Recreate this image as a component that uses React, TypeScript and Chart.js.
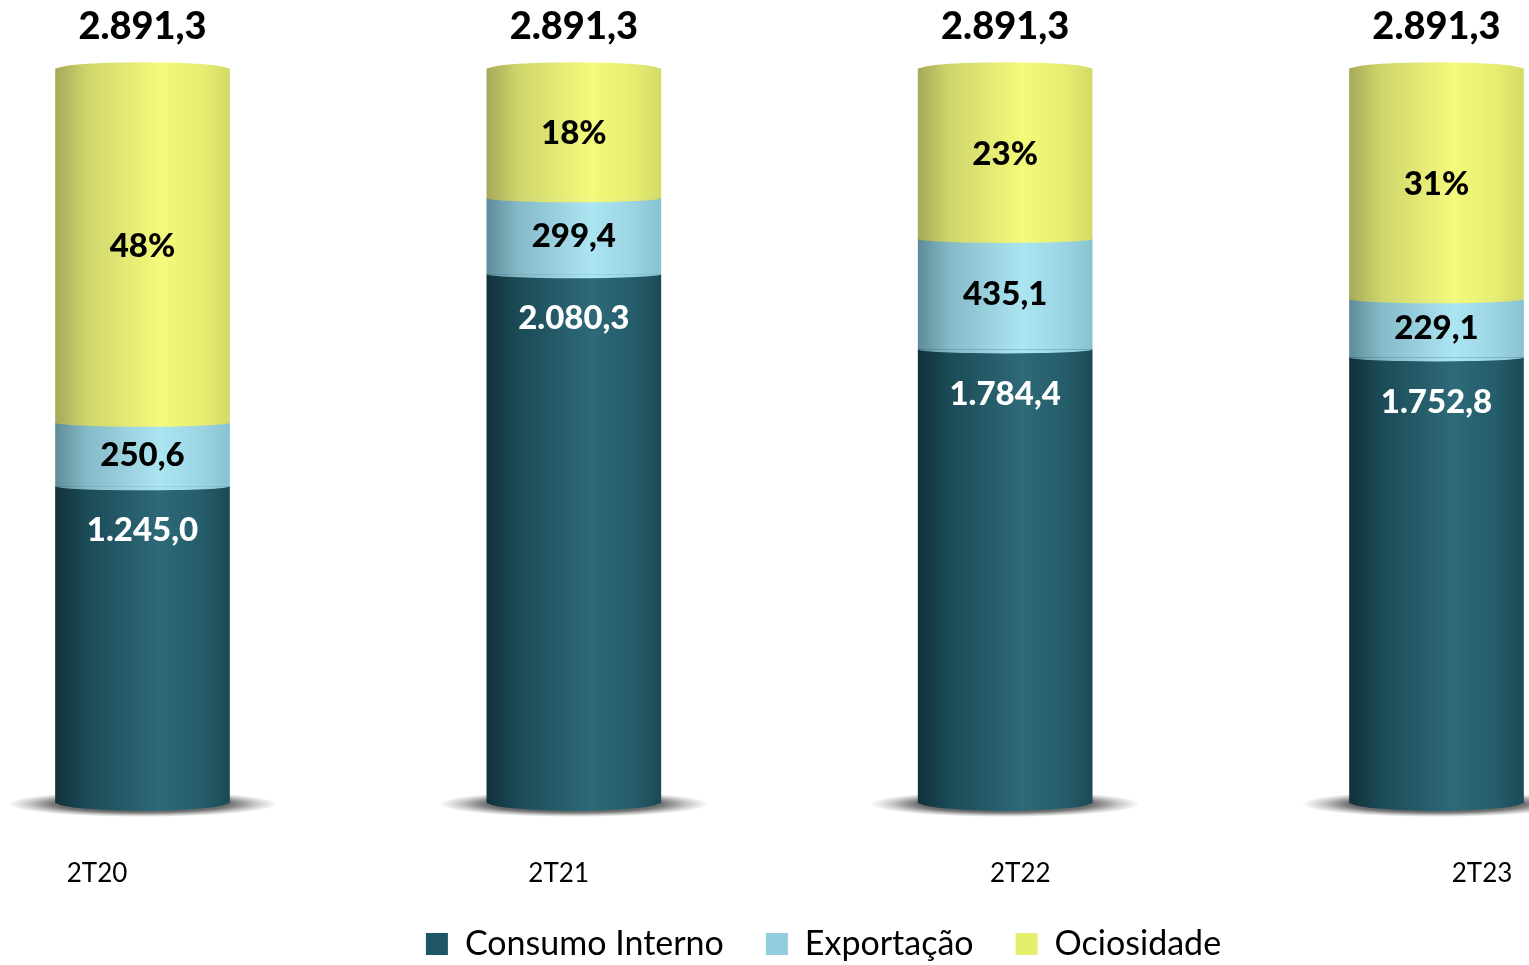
import React, { useEffect, useRef } from 'react';
import { Chart, registerables } from 'chart.js';

Chart.register(...registerables);

const categories = ['2T20', '2T21', '2T22', '2T23'];
const consumoInterno = [1245.0, 2080.3, 1784.4, 1752.8];
const exportacao = [250.6, 299.4, 435.1, 229.1];
const ociosidade = [1395.7, 511.6, 671.8, 909.4];
const totals = [2891.3, 2891.3, 2891.3, 2891.3];
const seriesNames = ['Consumo Interno', 'Exportação', 'Ociosidade'];

const legendColors = ['#1f5666', '#92cddf', '#e5ee6d'];
const gradientStops: [number, string][][] = [
  [[0, '#12313a'], [0.18, '#1b4b57'], [0.6, '#2e6a78'], [0.85, '#245c6a'], [1, '#1b4a56']],
  [[0, '#5d8c99'], [0.18, '#85bac8'], [0.6, '#ace5f2'], [0.85, '#9ad4e2'], [1, '#88c2d0']],
  [[0, '#a6aa5a'], [0.18, '#cfd56b'], [0.6, '#f4fa7b'], [0.85, '#e6ed70'], [1, '#d3da68']],
];

const W = 1529;
const H = 965;
const BAR_W = 174;

function fmt(v: number): string {
  const [i, d] = v.toFixed(1).split('.');
  return i.replace(/\B(?=(\d{3})+(?!\d))/g, '.') + ',' + d;
}

function makeGrad(ctx: CanvasRenderingContext2D, cx: number, w: number, stops: [number, string][]) {
  const g = ctx.createLinearGradient(cx - w / 2, 0, cx + w / 2, 0);
  stops.forEach(([o, c]) => g.addColorStop(o, c));
  return g;
}

const cylinderPlugin = {
  id: 'cylinders',
  beforeDatasetsDraw(chart: any) {
    const ctx: CanvasRenderingContext2D = chart.ctx;
    const meta = chart.getDatasetMeta(0);
    meta.data.forEach((bar: any) => {
      const cx = bar.x;
      const cy = bar.base + 1;
      const rx = 135;
      const ry = 13;
      ctx.save();
      ctx.translate(cx, cy);
      ctx.scale(1, ry / rx);
      const g = ctx.createRadialGradient(0, 0, 0, 0, 0, rx);
      g.addColorStop(0, 'rgba(0,0,0,0.8)');
      g.addColorStop(0.65, 'rgba(0,0,0,0.55)');
      g.addColorStop(0.85, 'rgba(0,0,0,0.2)');
      g.addColorStop(1, 'rgba(0,0,0,0)');
      ctx.fillStyle = g;
      ctx.beginPath();
      ctx.arc(0, 0, rx, 0, Math.PI * 2);
      ctx.fill();
      ctx.restore();
    });
  },
  afterDatasetsDraw(chart: any) {
    const ctx: CanvasRenderingContext2D = chart.ctx;
    const metas = [0, 1, 2].map((i) => chart.getDatasetMeta(i));
    categories.forEach((_, j) => {
      const b0 = metas[0].data[j];
      const b1 = metas[1].data[j];
      const b2 = metas[2].data[j];
      const cx = b0.x;
      const hw = BAR_W / 2;
      ctx.save();
      ctx.fillStyle = makeGrad(ctx, cx, BAR_W, gradientStops[0]);
      ctx.beginPath();
      ctx.ellipse(cx, b0.base - 1, hw, 9, 0, 0, Math.PI);
      ctx.fill();
      ctx.fillStyle = makeGrad(ctx, cx, BAR_W, gradientStops[1]);
      ctx.beginPath();
      ctx.ellipse(cx, b1.base - 0.5, hw, 4, 0, 0, Math.PI);
      ctx.fill();
      ctx.fillStyle = makeGrad(ctx, cx, BAR_W, gradientStops[2]);
      ctx.beginPath();
      ctx.ellipse(cx, b2.base - 0.5, hw, 4, 0, 0, Math.PI);
      ctx.fill();
      ctx.beginPath();
      ctx.ellipse(cx, b2.y + 0.5, hw, 7, 0, Math.PI, Math.PI * 2);
      ctx.fill();
      ctx.restore();
    });
  },
  afterDraw(chart: any) {
    const ctx: CanvasRenderingContext2D = chart.ctx;
    const metas = [0, 1, 2].map((i) => chart.getDatasetMeta(i));
    ctx.save();
    ctx.textAlign = 'center';
    ctx.textBaseline = 'middle';
    categories.forEach((_, j) => {
      const b0 = metas[0].data[j];
      const b1 = metas[1].data[j];
      const b2 = metas[2].data[j];
      const cx = b0.x;
      ctx.font = '900 33px Lato';
      ctx.fillStyle = '#ffffff';
      ctx.fillText(fmt(consumoInterno[j]), cx, b0.y + 44);
      ctx.fillStyle = '#000000';
      ctx.fillText(fmt(exportacao[j]), cx, (b1.y + b1.base) / 2);
      const pct = Math.round((ociosidade[j] / totals[j]) * 100) + '%';
      ctx.fillText(pct, cx, (b2.y + b2.base) / 2);
      ctx.font = '900 38px Lato';
      ctx.fillText(fmt(totals[j]), cx, b2.y - 42);
    });
    ctx.restore();
  },
};

export default function App() {
  const ref = useRef<HTMLCanvasElement>(null);

  useEffect(() => {
    const canvas = ref.current;
    if (!canvas) return;
    Chart.defaults.font.family = 'Lato';

    const padLeft = 118;
    const areaW = W - padLeft;
    const barStep = 431.33;
    const xMin = -(142.5 - padLeft) / barStep;
    const xMax = xMin + areaW / barStep;
    const lblStep = 461.67;
    const x2Min = (padLeft - 97) / lblStep;
    const x2Max = x2Min + areaW / lblStep;

    const makeDs = (k: number, values: number[]) => ({
      label: seriesNames[k],
      data: values.map((v, i) => ({ x: i, y: v })),
      xAxisID: 'x',
      yAxisID: 'y',
      barThickness: BAR_W,
      borderWidth: 0,
      clip: false as any,
      backgroundColor: (c: any) => {
        const chart = c.chart;
        const xs = chart.scales && chart.scales.x;
        if (!xs || c.type !== 'data' || !chart.chartArea) return legendColors[k];
        const cx = xs.getPixelForValue(c.dataIndex);
        return makeGrad(chart.ctx, cx, BAR_W, gradientStops[k]);
      },
    });

    const chart = new Chart(canvas, {
      type: 'bar',
      data: {
        datasets: [
          makeDs(0, consumoInterno),
          makeDs(1, exportacao),
          makeDs(2, ociosidade),
        ] as any,
      },
      options: {
        responsive: false,
        animation: false,
        devicePixelRatio: 1,
        layout: { padding: { left: padLeft, right: 0, top: 0, bottom: -6 } },
        scales: {
          x: {
            type: 'linear',
            display: false,
            offset: false,
            stacked: true,
            min: xMin,
            max: xMax,
            afterFit: (axis: any) => {
              axis.paddingLeft = 0;
              axis.paddingRight = 0;
            },
          },
          x2: {
            type: 'linear',
            position: 'bottom',
            offset: false,
            min: x2Min,
            max: x2Max,
            afterBuildTicks: (axis: any) => {
              axis.ticks = categories.map((_, i) => ({ value: i }));
            },
            afterFit: (axis: any) => {
              axis.paddingLeft = 0;
              axis.paddingRight = 0;
              axis.height = 82;
            },
            grid: { display: false },
            border: { display: false },
            ticks: {
              autoSkip: false,
              maxRotation: 0,
              padding: 47,
              color: '#000000',
              font: { size: 26, family: 'Lato' },
              callback: (v: any) => categories[Math.round(Number(v))] ?? '',
            },
          },
          y: {
            display: false,
            stacked: true,
            min: 0,
            max: 3162.3,
          },
        } as any,
        plugins: {
          tooltip: { enabled: false },
          legend: {
            position: 'bottom',
            labels: {
              boxWidth: 22,
              boxHeight: 22,
              padding: 42,
              color: '#000000',
              font: { size: 34, family: 'Lato' },
              generateLabels: (ch: any) =>
                ch.data.datasets.map((ds: any, i: number) => ({
                  text: ds.label,
                  fillStyle: legendColors[i],
                  strokeStyle: legendColors[i],
                  lineWidth: 0,
                  hidden: false,
                  datasetIndex: i,
                  fontColor: '#000000',
                })),
            },
          },
        },
      },
      plugins: [cylinderPlugin],
    });

    return () => chart.destroy();
  }, []);

  return (
    <div style={{ position: 'absolute', left: 0, top: 0, width: W, height: H, background: '#ffffff' }}>
      <canvas ref={ref} width={W} height={H} style={{ display: 'block' }} />
    </div>
  );
}
